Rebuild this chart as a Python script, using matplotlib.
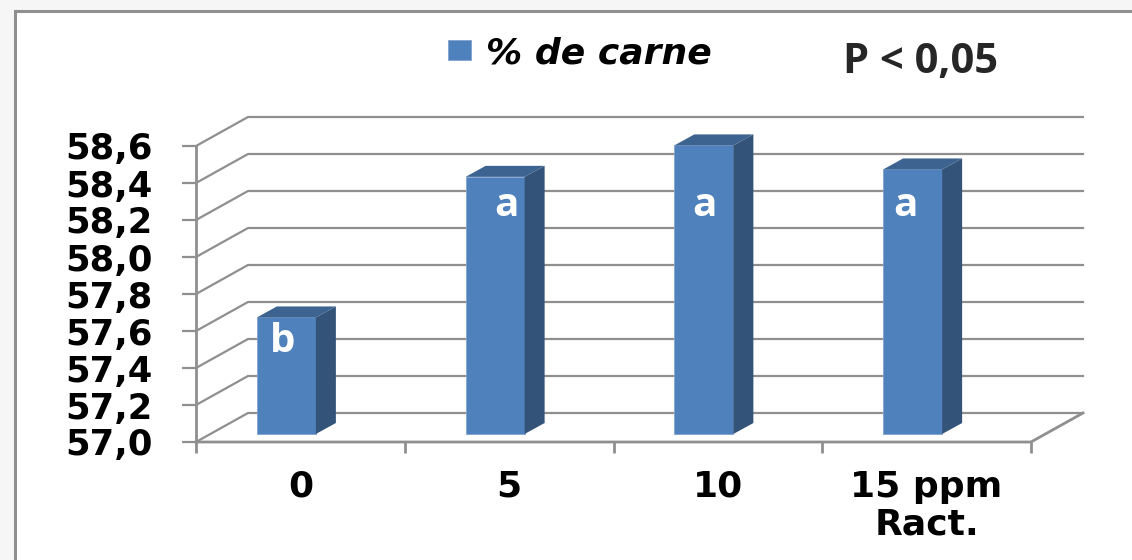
import matplotlib
matplotlib.use("Agg")
import matplotlib.pyplot as plt
from matplotlib.patches import Polygon, Rectangle

# datos
categories = ["0", "5", "10", "15 ppm\nRact."]
carne = [57.63, 58.39, 58.56, 58.43]
letters = ["b", "a", "a", "a"]
y_ticks = [57.0, 57.2, 57.4, 57.6, 57.8, 58.0, 58.2, 58.4, 58.6]
y_labels = ["57,0", "57,2", "57,4", "57,6", "57,8", "58,0", "58,2", "58,4", "58,6"]

W, H = 1132, 560
GRID = "#8f8f8f"
FRONT = "#4f81bd"
SIDE = "#335379"
TOP = "#3d6390"

fig = plt.figure(figsize=(W / 100, H / 100), dpi=100, facecolor="#f6f6f6")

# marco blanco (sin borde derecho ni inferior visibles)
fig.add_artist(Rectangle((15 / W, -0.02), (W - 15 + 20) / W, (H - 11) / H + 0.02, transform=fig.transFigure,
                         fc="white", ec=GRID, lw=2.2, zorder=-1))

ax = fig.add_axes([196 / W, (H - 442) / H, 835 / W, 296 / H])
ax.set_xlim(0, 4)
ax.set_ylim(57.0, 58.6)
ax.patch.set_visible(False)

# pixeles -> unidades de datos
ux = 4 / 835
uy = 1.6 / 296
wall_dx, wall_dy = 52 * ux, 29 * uy

# pared del fondo y lineas oblicuas
for v in y_ticks:
    ax.plot([0, wall_dx, 4 + wall_dx], [v, v + wall_dy, v + wall_dy], color=GRID, lw=1.6,
            clip_on=False, zorder=1)
ax.plot([0, 4, 4 + wall_dx], [57.0, 57.0, 57.0 + wall_dy], color=GRID, lw=2, clip_on=False, zorder=1)

# barras
bar_w = 59 * ux
depth_x, depth_y = 20 * ux, 11 * uy
base = 57.0 + 8 * uy
xs = [i + 0.5 - 14 * ux for i in range(len(carne))]
bars = ax.bar(xs, [v - 57.0 for v in carne], bottom=base, width=bar_w, color=FRONT,
              edgecolor="#7fa3d1", linewidth=0.6, zorder=3, label="% de carne", clip_on=False)
for x, v in zip(xs, carne):
    left, right = x - bar_w / 2, x + bar_w / 2
    top = base + v - 57.0
    ax.add_patch(Polygon([(right, base), (right + depth_x, base + depth_y),
                          (right + depth_x, top + depth_y), (right, top)],
                         fc=SIDE, ec="none", zorder=3, clip_on=False))
    ax.add_patch(Polygon([(left, top), (left + depth_x, top + depth_y),
                          (right + depth_x, top + depth_y), (right, top)],
                         fc=TOP, ec="none", zorder=3, clip_on=False))

# ejes
for s in ["top", "right", "bottom"]:
    ax.spines[s].set_visible(False)
ax.spines["left"].set_color(GRID)
ax.spines["left"].set_linewidth(2)
ax.spines["left"].set_bounds(57.0, 58.6)

ax.set_yticks(y_ticks)
ax.set_yticklabels(y_labels, fontfamily="DejaVu Sans", fontweight="bold", fontsize=25.5, color="black")
ax.tick_params(axis="y", length=10, width=1.6, color=GRID, pad=21)

ax.set_xticks(range(5))
ax.set_xticklabels([])
ax.tick_params(axis="x", which="major", length=8, width=2, color=GRID)
ax.set_xticks([i + 0.5 for i in range(4)], minor=True)
ax.set_xticklabels(categories, minor=True, fontfamily="DejaVu Sans", fontweight="bold",
                   fontsize=26, linespacing=1.12)
ax.tick_params(axis="x", which="minor", length=0, pad=20)

# letras de significancia
letter_pos = [(283, 341), (506, 206), (704, 206), (905, 206)]
for (px, py), s in zip(letter_pos, letters):
    fig.text(px / W, 1 - py / H, s, color="white", family="Open Sans", fontweight="bold",
             fontsize=29, ha="center", va="center", zorder=5)

fig.text(920.5 / W, 1 - 62 / H, "P < 0,05", color="#262626", family="Open Sans", fontweight="bold",
         fontsize=30, ha="center", va="center")

# leyenda
ax.legend(handles=[bars], loc="center left", bbox_to_anchor=(448 / W, 1 - 53 / H),
          bbox_transform=fig.transFigure, frameon=False, handlelength=0.64, handleheight=0.5,
          handletextpad=0.42, borderpad=0, borderaxespad=0,
          prop=dict(family="DejaVu Sans", weight="bold", style="italic", size=26))

fig.savefig("out.png", dpi=100, facecolor=fig.get_facecolor())
